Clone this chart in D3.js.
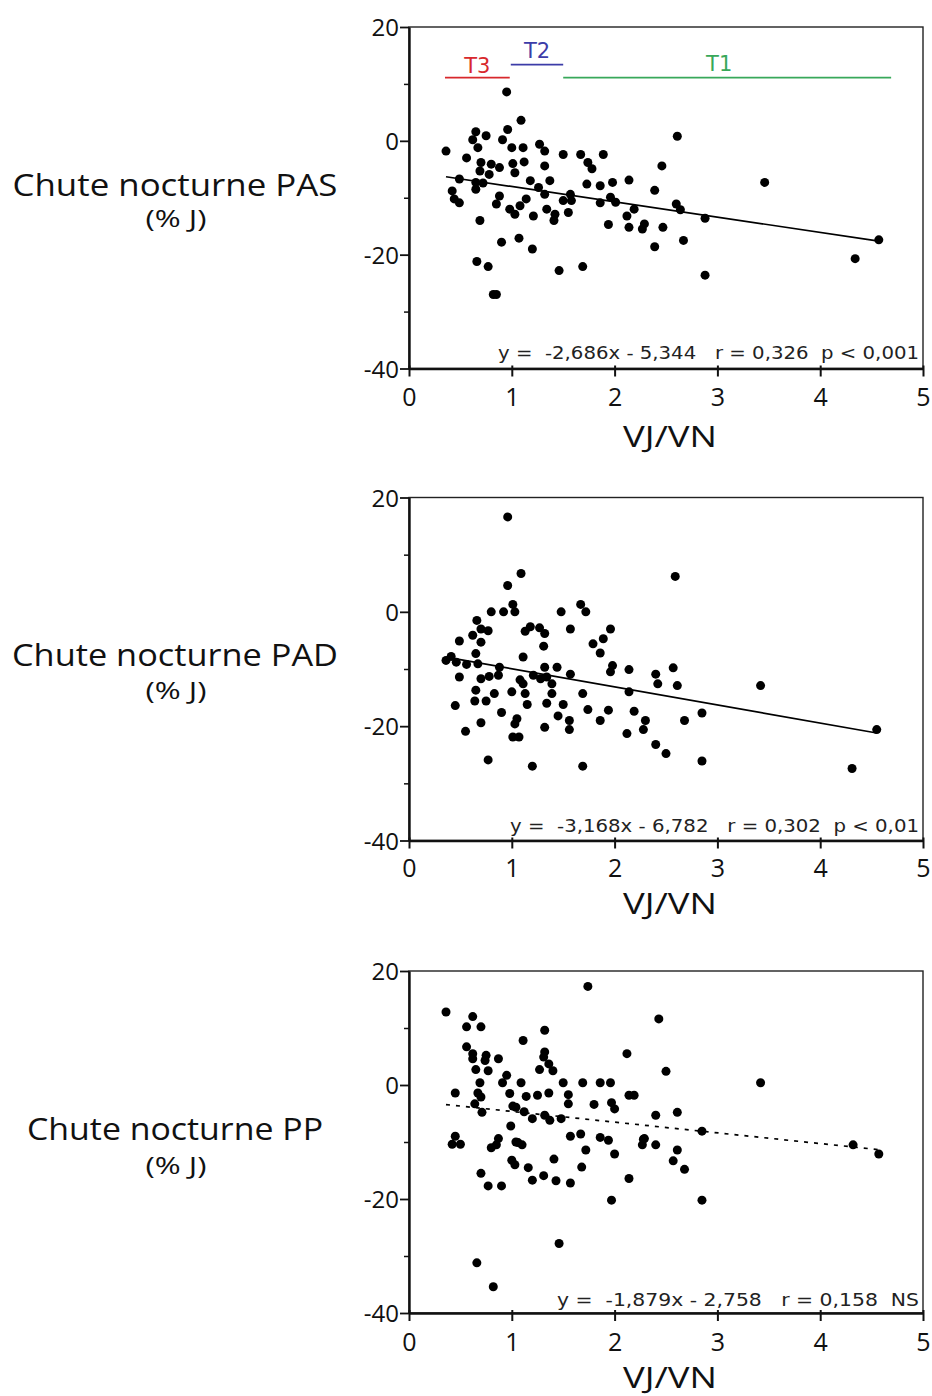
<!DOCTYPE html>
<html><head><meta charset="utf-8">
<script src="https://cdn.jsdelivr.net/npm/d3@7"></script>
<style>
body{margin:0;background:#fff;}
svg text.comic{font-family:"Open Sans","Noto Sans","DejaVu Sans",sans-serif;}
svg text.verd{font-family:"DejaVu Sans",Verdana,sans-serif;}
</style></head><body>
<svg id="c" width="932" height="1396"></svg>
<script>
// ---------- data ----------
const xTicks=[0,1,2,3,4,5];
const yTicksMajor=[-40,-20,0,20];
const yTicksMinor=[-30,-10,10];
const panelTitles=["Chute nocturne PAS","Chute nocturne PAD","Chute nocturne PP"];
const unitLabel="(% J)";
const xLabel="VJ/VN";
const statTexts=["y =  -2,686x - 5,344   r = 0,326  p < 0,001","y =  -3,168x - 6,782   r = 0,302  p < 0,01","y =  -1,879x - 2,758   r = 0,158  NS"];
const slopes=[-2.686,-3.168,-1.879];
const intercepts=[-5.344,-6.782,-2.758];
const tertileLabels=["T3","T2","T1"];
const tertileFrom=[0.35,0.99,1.5];
const tertileTo=[0.98,1.5,4.69];

const pasX=[0.95,1.09,0.96,0.65,0.75,0.62,0.91,0.36,0.67,0.56,1.00,1.11,1.27,1.32,1.50,1.67,1.89,0.70,0.80,0.88,1.01,1.12,1.32,1.74,1.78,0.69,0.78,1.03,1.37,1.18,0.65,1.73,1.86,1.98,2.14,2.46,2.39,0.42,0.65,1.26,
0.44,0.49,0.49,0.72,0.69,0.88,0.85,0.98,1.03,1.08,1.14,1.21,1.32,1.34,1.42,1.41,1.50,1.57,1.58,1.55,1.86,1.96,2.01,1.94,2.12,2.19,2.14,2.29,2.27,2.39,0.90,1.07,1.20,0.66,0.77,0.82,0.85,1.46,1.69,
2.61,3.46,2.60,2.64,2.88,2.47,2.67,2.88,4.34,4.57];
const pasY=[8.6,3.6,2.0,1.6,0.9,0.2,0.2,-1.8,-1.2,-3.0,-1.2,-1.2,-0.6,-1.8,-2.4,-2.4,-2.4,-3.8,-4.1,-4.7,-4.0,-3.7,-4.4,-3.8,-4.9,-5.3,-5.9,-5.6,-7.0,-7.0,-7.3,-7.6,-7.9,-7.3,-6.9,-4.4,-8.7,-8.8,-8.5,-8.2,
-10.2,-10.9,-6.7,-7.4,-14.0,-9.7,-11.1,-12.0,-12.9,-11.4,-10.2,-13.2,-9.4,-12.0,-12.9,-14.0,-10.5,-9.4,-10.5,-12.6,-10.9,-9.9,-10.8,-14.7,-13.2,-12.0,-15.2,-14.6,-15.5,-18.6,-17.8,-17.1,-19.0,-21.2,-22.1,-27.0,-27.0,-22.8,-22.1,
0.8,-7.3,-11.1,-12.1,-13.6,-15.2,-17.5,-23.6,-20.7,-17.4];

const padX=[0.96,1.09,0.96,1.01,0.80,0.92,1.03,1.48,1.67,1.72,0.66,0.70,0.77,0.62,0.49,0.70,1.18,1.13,1.27,1.32,1.31,1.57,1.96,1.89,1.79,1.86,1.11,0.65,0.41,0.36,0.46,0.67,0.88,1.32,1.44,1.98,2.14,
0.49,0.70,0.56,0.78,0.87,0.65,0.83,0.64,0.75,0.45,1.00,1.08,1.11,1.13,1.15,1.21,1.28,1.34,1.39,1.39,1.34,1.57,1.50,0.90,0.70,0.55,1.05,1.03,1.32,1.45,1.56,1.56,1.01,1.07,0.77,1.20,1.69,1.69,1.74,1.86,1.94,1.96,2.14,2.19,2.12,2.30,2.28,2.40,2.40,2.42,
2.59,2.57,2.61,3.42,2.85,2.68,2.50,2.85,4.31,4.55];
const padY=[16.6,6.7,4.6,1.3,0,0,0,0,1.3,0,-1.5,-3.0,-3.3,-4.1,-5.1,-5.3,-2.6,-3.4,-2.8,-3.8,-6.0,-3.0,-3.0,-4.7,-5.6,-7.2,-7.9,-7.3,-7.8,-8.5,-8.8,-9.1,-9.7,-9.7,-9.7,-9.4,-10.1,
-11.4,-11.7,-9.2,-11.3,-11.1,-13.7,-14.3,-15.6,-15.6,-16.4,-14.0,-11.9,-12.6,-14.3,-16.2,-11.1,-11.7,-11.4,-12.6,-14.3,-16.0,-10.9,-16.2,-17.6,-19.4,-20.9,-18.7,-19.6,-20.2,-18.2,-19.0,-20.6,-21.9,-21.9,-25.9,-27.0,-27.0,-14.3,-17.1,-19.0,-17.2,-10.5,-14.0,-17.4,-21.3,-19.0,-20.6,-23.2,-10.9,-12.6,
6.2,-9.8,-12.9,-12.9,-17.7,-19.0,-24.8,-26.1,-27.4,-20.6];

const ppX=[1.74,0.36,0.62,0.56,0.70,1.32,1.11,2.43,0.56,0.62,0.62,0.75,0.74,0.87,1.32,1.31,1.36,1.27,1.40,2.12,0.65,0.77,0.95,0.69,0.91,1.09,1.50,1.69,1.86,1.96,
0.45,0.67,0.70,0.64,0.71,0.98,1.14,1.25,1.36,1.55,1.55,1.80,1.97,2.00,2.14,2.19,2.40,1.01,1.04,1.12,1.20,1.32,1.37,1.48,0.99,0.45,0.87,1.04,1.57,1.67,1.86,1.94,2.29,
0.42,0.50,0.80,0.85,1.06,1.10,1.00,1.03,1.16,1.20,1.31,1.41,1.43,1.57,1.72,1.68,2.00,2.14,1.97,2.28,2.27,2.40,0.70,0.77,0.90,1.46,0.66,0.82,
2.50,3.42,2.61,2.85,2.61,2.57,2.68,2.85,4.32,4.57];
const ppY=[17.3,12.8,12.0,10.2,10.2,9.6,7.8,11.6,6.7,5.5,4.6,5.2,4.3,4.6,5.8,4.9,3.7,2.7,2.5,5.5,2.7,2.5,1.7,0.4,0.4,0.4,0.4,0.4,0.4,0.4,
-1.4,-1.4,-2.1,-3.3,-4.8,-1.5,-2.0,-1.8,-1.4,-1.7,-3.3,-3.4,-3.1,-4.2,-1.8,-1.8,-5.3,-3.7,-3.9,-4.7,-5.9,-5.3,-6.2,-5.9,-7.2,-9.0,-9.4,-10.0,-9.0,-8.6,-9.2,-9.7,-9.4,
-10.4,-10.4,-11.0,-10.5,-10.1,-10.5,-13.2,-14.0,-14.5,-16.7,-15.9,-13.0,-16.8,-17.2,-11.4,-14.4,-12.1,-16.4,-20.2,-9.5,-10.5,-10.5,-15.5,-17.7,-17.7,-27.8,-31.2,-35.4,
2.4,0.4,-4.8,-8.1,-11.4,-13.3,-14.8,-20.2,-10.5,-12.1];

const seriesX=[pasX,padX,ppX];
const seriesY=[pasY,padY,ppY];

// ---------- layout / style ----------
const layout=[
 {top:27,bottom:368.5,titleY:196,unitY:227,tickLabY:406,xLabY:447,statY:359,statX0:498,titleW:325,unitW:61,dashed:false,tert:true},
 {top:497.5,bottom:840.5,titleY:666,unitY:699,tickLabY:877,xLabY:914,statY:832,statX0:510,titleW:326,unitW:61,dashed:false,tert:false},
 {top:971,bottom:1313,titleY:1140,unitY:1174,tickLabY:1351,xLabY:1388,statY:1306,statX0:557,titleW:296,unitW:61,dashed:true,tert:false}
];
const tertColors=["#d8282c","#3c3ca8","#38a85a"];
const tertLineV=[11.1,13.4,11.1];
const tertTextV=[12.0,14.6,12.2];
const tertTextShift=[0,0,-8];
const plainNum=d=>String(d);

const svg=d3.select("#c");
layout.forEach((L,i)=>{
  const x=d3.scaleLinear().domain([0,5]).range([409,923]);
  const y=d3.scaleLinear().domain([-40,20]).range([L.bottom,L.top]);
  const g=svg.append("g");
  // frame
  g.append("rect").attr("x",x(0)).attr("y",y(20)).attr("width",x(5)-x(0)).attr("height",y(-40)-y(20))
    .attr("fill","none").attr("stroke","#222").attr("stroke-width",1.4);
  // axes
  const ax=g.append("g").attr("transform",`translate(0,${y(-40)})`)
    .call(d3.axisBottom(x).tickValues(xTicks).tickSize(8).tickSizeOuter(0).tickFormat(plainNum));
  ax.select(".domain").attr("stroke","#111").attr("stroke-width",2.4);
  ax.selectAll(".tick line").attr("stroke","#111").attr("stroke-width",2).attr("y1",-3);
  ax.selectAll(".tick text").attr("class","comic").attr("y",L.tickLabY-L.bottom).attr("dy",null)
    .attr("font-size",25).attr("fill","#111");
  const ay=g.append("g").attr("transform",`translate(${x(0)},0)`)
    .call(d3.axisLeft(y).tickValues(yTicksMajor).tickSize(9).tickSizeOuter(0).tickPadding(1).tickFormat(plainNum));
  ay.select(".domain").attr("stroke","#111").attr("stroke-width",2.4);
  ay.selectAll(".tick line").attr("stroke","#111").attr("stroke-width",1.8);
  ay.selectAll(".tick text").attr("class","comic").attr("font-size",24).attr("fill","#111").attr("dy","0.36em");
  const am=g.append("g").attr("transform",`translate(${x(0)},0)`)
    .call(d3.axisLeft(y).tickValues(yTicksMinor).tickSize(5).tickSizeOuter(0).tickFormat(""));
  am.select(".domain").remove();
  am.selectAll(".tick line").attr("stroke","#111").attr("stroke-width",1.5);

  // points
  const xs=seriesX[i], ys=seriesY[i];
  const pts=xs.map((v,k)=>[v,ys[k]]);
  g.append("g").selectAll("circle").data(pts).join("circle")
    .attr("cx",d=>x(d[0])).attr("cy",d=>y(d[1])).attr("r",4.5).attr("fill","#000");
  // regression line
  const ext=d3.extent(xs);
  const lineGen=d3.line().x(d=>x(d)).y(d=>y(slopes[i]*d+intercepts[i]));
  g.append("path").attr("d",lineGen(ext)).attr("fill","none").attr("stroke","#000")
    .attr("stroke-width",1.7).attr("stroke-dasharray",L.dashed?"4,6":null);
  // stats
  g.append("text").attr("class","verd").attr("x",L.statX0).attr("y",L.statY)
    .attr("font-size",17).attr("fill","#222").style("white-space","pre")
    .attr("textLength",919-L.statX0).attr("lengthAdjust","spacingAndGlyphs").text(statTexts[i]);
  // titles
  g.append("text").attr("class","comic").attr("x",175).attr("y",L.titleY).attr("text-anchor","middle")
    .attr("font-size",31).attr("fill","#111").attr("textLength",L.titleW).attr("lengthAdjust","spacingAndGlyphs")
    .text(panelTitles[i]);
  g.append("text").attr("class","comic").attr("x",176).attr("y",L.unitY).attr("text-anchor","middle")
    .attr("font-size",23).attr("fill","#111").attr("textLength",L.unitW).attr("lengthAdjust","spacingAndGlyphs").text(unitLabel);
  g.append("text").attr("class","comic").attr("x",670).attr("y",L.xLabY).attr("text-anchor","middle")
    .attr("font-size",29).attr("fill","#111").attr("textLength",94).attr("lengthAdjust","spacingAndGlyphs").text(xLabel);
  // tertiles
  if(L.tert){
    tertileLabels.forEach((t,k)=>{
      g.append("line").attr("x1",x(tertileFrom[k])).attr("x2",x(tertileTo[k]))
        .attr("y1",y(tertLineV[k])).attr("y2",y(tertLineV[k])).attr("stroke",tertColors[k]).attr("stroke-width",1.7);
      g.append("text").attr("class","verd").attr("x",x((tertileFrom[k]+tertileTo[k])/2)+tertTextShift[k]).attr("y",y(tertTextV[k]))
        .attr("text-anchor","middle").attr("font-size",21).attr("fill",tertColors[k]).text(t);
    });
  }
});
</script></body></html>
